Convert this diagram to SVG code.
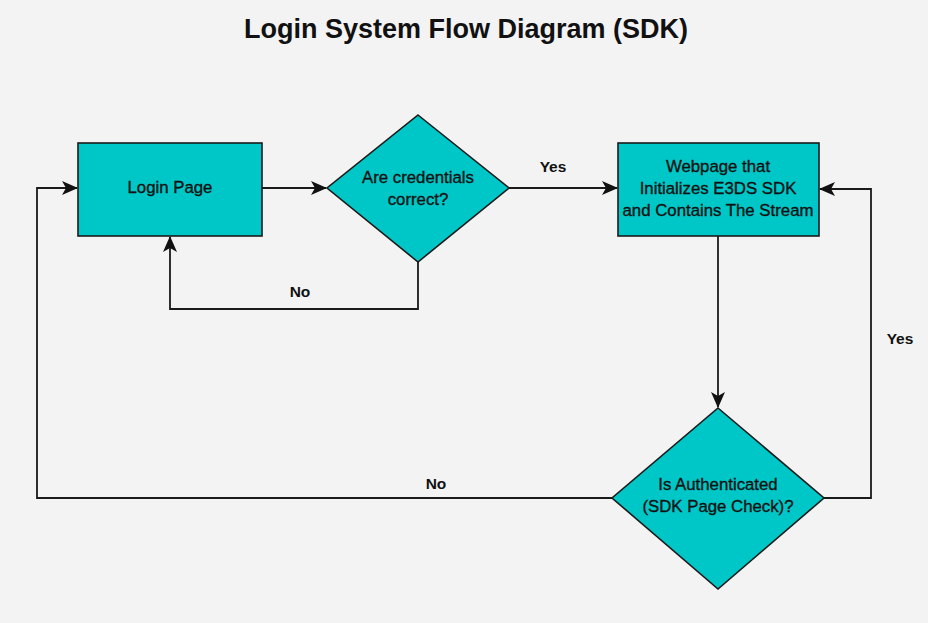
<svg xmlns="http://www.w3.org/2000/svg" width="928" height="623" viewBox="0 0 928 623">
<defs>
<style>
.node{fill:#00c7c7;stroke:#1a1a1a;stroke-width:1.6}
.t{font-family:"Liberation Sans",Arial,sans-serif;font-size:16.8px;fill:#111;stroke:#111;stroke-width:0.35;text-anchor:middle}
.lbl{font-family:"Liberation Sans",Arial,sans-serif;font-size:15.5px;font-weight:bold;fill:#111;text-anchor:middle}
.edge{fill:none;stroke:#1a1a1a;stroke-width:1.8}
</style>
<marker id="arr" viewBox="0 0 16 14" refX="15" refY="7" markerWidth="16" markerHeight="14" markerUnits="userSpaceOnUse" orient="auto">
<path d="M0,0 L16,7 L0,14 L4,7 Z" fill="#111"/>
</marker>
</defs>
<rect width="928" height="623" fill="#f3f3f3"/>
<text x="466" y="38" font-family="Liberation Sans,Arial,sans-serif" font-size="27px" font-weight="bold" fill="#111" text-anchor="middle">Login System Flow Diagram (SDK)</text>
<g id="connectors">
<path class="edge" d="M262,188 L326,188" marker-end="url(#arr)"/>
<path class="edge" d="M509,188 L617,188" marker-end="url(#arr)"/>
<path class="edge" d="M418,262 L418,309 L170,309 L170,237" marker-end="url(#arr)"/>
<path class="edge" d="M718,236 L718,407" marker-end="url(#arr)"/>
<path class="edge" d="M824,498 L871,498 L871,189 L820,189" marker-end="url(#arr)"/>
<path class="edge" d="M612,498 L37,498 L37,188 L77,188" marker-end="url(#arr)"/>
<text class="lbl" x="553" y="172">Yes</text>
<text class="lbl" x="300" y="297">No</text>
<text class="lbl" x="900" y="344">Yes</text>
<text class="lbl" x="436" y="489">No</text>
</g>
<g id="login">
<rect class="node" x="78" y="143" width="184" height="93"/>
<text class="t" x="170" y="193">Login Page</text>
</g>
<g id="check-credentials">
<polygon class="node" points="418,115 509,188 418,262 327,188"/>
<text class="t" x="418" y="183">Are credentials</text>
<text class="t" x="418" y="205">correct?</text>
</g>
<g id="webpage">
<rect class="node" x="618" y="143" width="201" height="93"/>
<text class="t" x="718" y="172">Webpage that</text>
<text class="t" x="718" y="194">Initializes E3DS SDK</text>
<text class="t" x="718" y="216">and Contains The Stream</text>
</g>
<g id="is-authenticated">
<polygon class="node" points="718,408 824,498 718,589 612,498"/>
<text class="t" x="718" y="490">Is Authenticated</text>
<text class="t" x="718" y="512">(SDK Page Check)?</text>
</g>
</svg>
